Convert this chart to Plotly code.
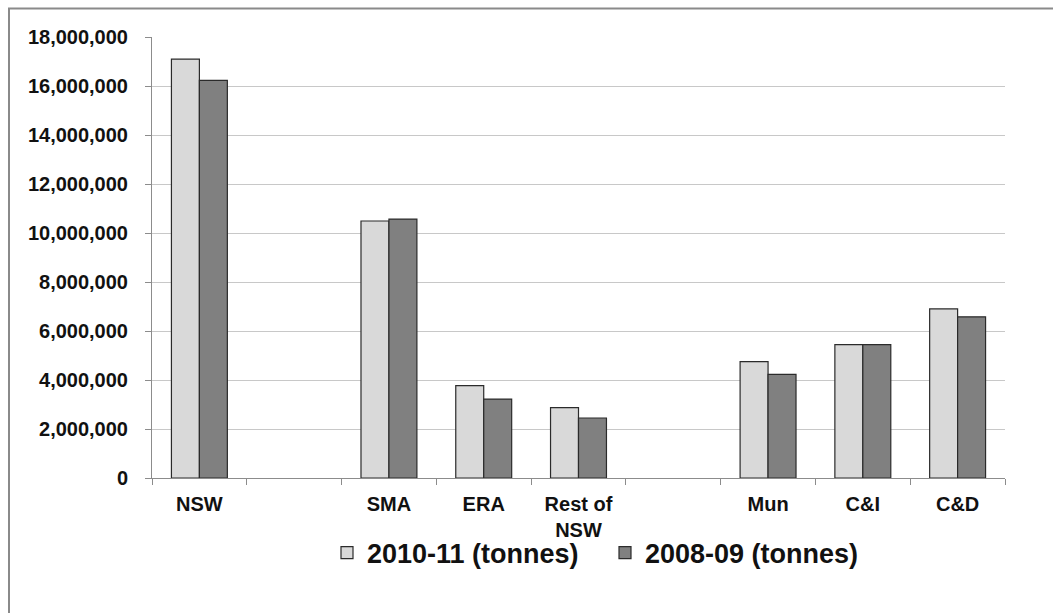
import plotly.graph_objects as go

# Waste generation by region and stream (tonnes)
categories = ["NSW", " ", "SMA", "ERA", "Rest of<br>NSW", "  ", "Mun", "C&I", "C&D"]
tonnes_2010_11 = [17100000, None, 10490000, 3770000, 2870000, None, 4750000, 5440000, 6900000]
tonnes_2008_09 = [16230000, None, 10570000, 3220000, 2450000, None, 4230000, 5440000, 6580000]
y_ticks = [0, 2000000, 4000000, 6000000, 8000000, 10000000, 12000000, 14000000, 16000000, 18000000]

FONT = "Liberation Sans, Arial, sans-serif"
W, H = 1053, 613
L, R, T, B = 152, 48, 37, 135
pw, ph = W - L - R, H - T - B


def px_x(p):
    return (p - L) / pw


def px_y(p):
    return (H - B - p) / ph


fig = go.Figure()
fig.add_trace(go.Bar(
    x=categories, y=tonnes_2010_11, name="2010-11 (tonnes)",
    marker=dict(color="#d9d9d9", line=dict(color="#2b2b2b", width=1.2)),
))
fig.add_trace(go.Bar(
    x=categories, y=tonnes_2008_09, name="2008-09 (tonnes)",
    marker=dict(color="#808080", line=dict(color="#2b2b2b", width=1.2)),
))

fig.update_layout(
    width=W, height=H,
    margin=dict(l=L, r=R, t=T, b=B, pad=0),
    paper_bgcolor="white", plot_bgcolor="white",
    barmode="group", bargap=0.41, bargroupgap=0,
    font=dict(family=FONT, color="#111111"),
    showlegend=True,
    legend=dict(
        orientation="h", x=px_x(327), xanchor="left",
        y=px_y(553), yanchor="middle",
        font=dict(family=FONT, size=27, color="#111111", weight="bold"),
        itemwidth=30, tracegroupgap=0,
        entrywidth=233, entrywidthmode="pixels",
        bgcolor="rgba(0,0,0,0)",
    ),
    shapes=[dict(
        type="rect", xref="paper", yref="paper",
        x0=px_x(9), x1=1.3, y0=-0.6, y1=px_y(8.5),
        line=dict(color="#8a8a8a", width=2), fillcolor="rgba(0,0,0,0)",
        layer="below",
    )],
)

fig.update_xaxes(
    type="category", categoryorder="array", categoryarray=categories,
    tickson="boundaries", ticks="outside", ticklen=6, tickcolor="#8c8c8c",
    showline=True, linecolor="#8c8c8c", linewidth=1,
    showgrid=False, ticklabelstandoff=8,
    tickfont=dict(family=FONT, size=20, color="#111111", weight="bold"),
)
fig.update_yaxes(
    range=[0, 18000000], tickvals=y_ticks,
    tickformat=",d",
    ticks="outside", ticklen=6, tickcolor="#8c8c8c",
    showline=True, linecolor="#8c8c8c", linewidth=1,
    showgrid=True, gridcolor="#c8c8c8", gridwidth=1,
    zeroline=False, ticklabelstandoff=13,
    tickfont=dict(family=FONT, size=20, color="#111111", weight="bold"),
)

fig.write_html("out.html")
